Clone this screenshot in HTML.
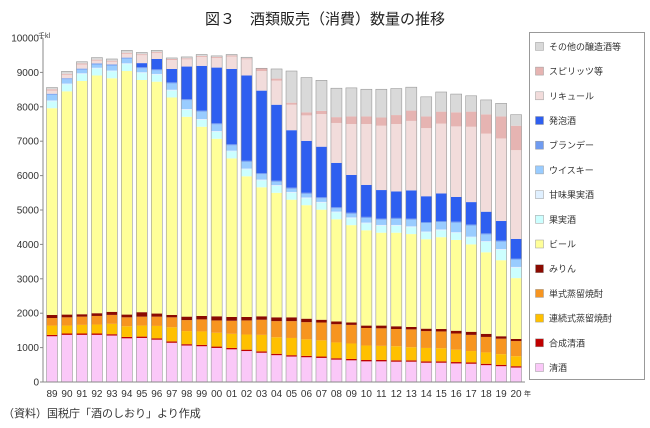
<!DOCTYPE html>
<html><head><meta charset="utf-8"><style>
body{margin:0;background:#fff;}
svg{display:block;font-family:"Liberation Sans","Noto Sans CJK JP",sans-serif;}
</style></head><body>
<svg id="c" width="650" height="428" viewBox="0 0 650 428" xmlns="http://www.w3.org/2000/svg">
<rect width="650" height="428" fill="#fff"/>
<text x="325" y="24" font-size="15" text-anchor="middle" fill="#222">図３　酒類販売（消費）数量の推移</text>
<text x="3" y="417" font-size="11" fill="#333">（資料）国税庁「酒のしおり」より作成</text>
<g id="bars"></g>
<line x1="43" y1="38" x2="43" y2="382" stroke="#888" stroke-width="1"/>
<line x1="43" y1="382" x2="525" y2="382" stroke="#888" stroke-width="1"/>
<g id="axes" font-size="10" fill="#333"></g>
<text x="38" y="38" font-size="7" fill="#333">千kl</text>
<text x="524" y="396" font-size="7" fill="#333">年</text>
<rect x="529.5" y="32.5" width="115" height="347" fill="#fff" stroke="#999"/>
<g id="leg" font-size="9" fill="#333"></g>
</svg>
<script>
var yrs=["89","90","91","92","93","94","95","96","97","98","99","00","01","02","03","04","05","06","07","08","09","10","11","12","13","14","15","16","17","18","19","20"];
var sake=[1330,1370,1370,1370,1350,1270,1280,1230,1140,1060,1040,990,950,900,850,780,740,720,700,650,630,600,600,590,590,560,560,540,530,490,460,420];
var ren=[1640,1640,1660,1670,1690,1620,1640,1630,1590,1480,1470,1430,1400,1380,1370,1300,1280,1240,1210,1150,1120,1060,1050,1040,1010,990,980,940,900,860,810,750];
var tan=[1860,1880,1900,1920,1950,1880,1900,1900,1880,1800,1820,1790,1780,1790,1810,1770,1770,1740,1730,1680,1660,1570,1560,1540,1530,1480,1470,1410,1370,1310,1260,1190];
var mir=[1950,1960,1970,2000,2040,1960,2030,1990,1950,1900,1920,1910,1890,1890,1910,1880,1880,1840,1810,1760,1730,1640,1640,1620,1600,1550,1540,1490,1460,1400,1330,1250];
var beer=[7960,8450,8750,8910,8830,9040,8780,8730,8270,7710,7420,7070,6500,5980,5660,5500,5300,5140,5010,4730,4560,4410,4340,4340,4300,4150,4210,4130,4000,3770,3540,3020];
var hb=[8380,8830,9110,9260,9230,9430,9150,9090,8710,8220,7890,7520,6910,6430,6070,5850,5650,5500,5370,5080,4920,4800,4750,4770,4750,4650,4680,4660,4580,4320,4110,3590];
var ht=[8380,8830,9110,9260,9230,9430,9270,9390,9100,9170,9190,9140,9100,8910,8470,8060,7320,7010,6840,6370,6020,5730,5580,5540,5570,5400,5480,5380,5230,4950,4680,4160];
var liq=[8470,8930,9230,9340,9310,9540,9500,9560,9360,9380,9450,9420,9460,9380,9040,8760,8060,7750,7790,7530,7500,7500,7450,7500,7590,7380,7510,7430,7420,7220,7080,6740];
var spi=[8510,8960,9260,9370,9340,9570,9530,9590,9390,9410,9480,9450,9490,9410,9120,8820,8120,7840,7880,7700,7720,7720,7690,7760,7890,7720,7860,7840,7860,7780,7720,7450];
var tot=[8560,9030,9310,9430,9390,9640,9580,9640,9420,9450,9520,9480,9520,9440,9120,9100,9040,8850,8770,8540,8550,8510,8510,8530,8570,8290,8430,8370,8320,8200,8100,7770];
var cols=["#FAC8F8","#C00000","#FFC000","#F79520","#8B0A00","#FFFF99","#CCFFFF","#E0F0FF","#99CCFF","#6F9BF0","#2E5FF0","#F2DCDB","#E6B4B2","#D9D9D9"];
var names=["清酒","合成清酒","連続式蒸留焼酎","単式蒸留焼酎","みりん","ビール","果実酒","甘味果実酒","ウイスキー","ブランデー","発泡酒","リキュール","スピリッツ等","その他の醸造酒等"];
function Y(v){return 382-v*0.0344;}
var s="";
for(var i=0;i<32;i++){
 var kj=(i>=29?300:200);
 var b=[0,sake[i],sake[i]+40,ren[i],tan[i],mir[i],beer[i],beer[i]+kj,beer[i]+kj+25,hb[i]-30,hb[i],ht[i],liq[i],spi[i],tot[i]];
 var x=52+i*14.97-5.5;
 for(var k=0;k<14;k++){
  var y1=Y(b[k+1]),y0=Y(b[k]);
  if(y0-y1<=0.05)continue;
  s+='<rect x="'+x.toFixed(2)+'" y="'+y1.toFixed(2)+'" width="11" height="'+(y0-y1).toFixed(2)+'" fill="'+cols[k]+'"/>';
 }
 s+='<rect x="'+x.toFixed(2)+'" y="'+Y(tot[i]).toFixed(2)+'" width="11" height="'+(382-Y(tot[i])).toFixed(2)+'" fill="none" stroke="#999" stroke-width="0.6"/>';
}
document.getElementById("bars").innerHTML=s;
var a="";
for(var v=0;v<=10000;v+=1000){var y=Y(v);a+='<text x="39" y="'+(y+3.5)+'" text-anchor="end">'+v+'</text><line x1="40" y1="'+y+'" x2="43" y2="'+y+'" stroke="#888"/>';}
for(var i=0;i<32;i++){a+='<text x="'+(52+i*14.97)+'" y="397" text-anchor="middle">'+yrs[i]+'</text>';}
document.getElementById("axes").innerHTML=a;
var l="";
for(var k=0;k<14;k++){var y=368-k*24.7;l+='<rect x="535.5" y="'+(y-4.5)+'" width="8" height="8" fill="'+cols[k]+'" stroke="#999" stroke-width="0.5"/><text x="549" y="'+(y+3)+'">'+names[k]+'</text>';}
document.getElementById("leg").innerHTML=l;
</script>
</body></html>
